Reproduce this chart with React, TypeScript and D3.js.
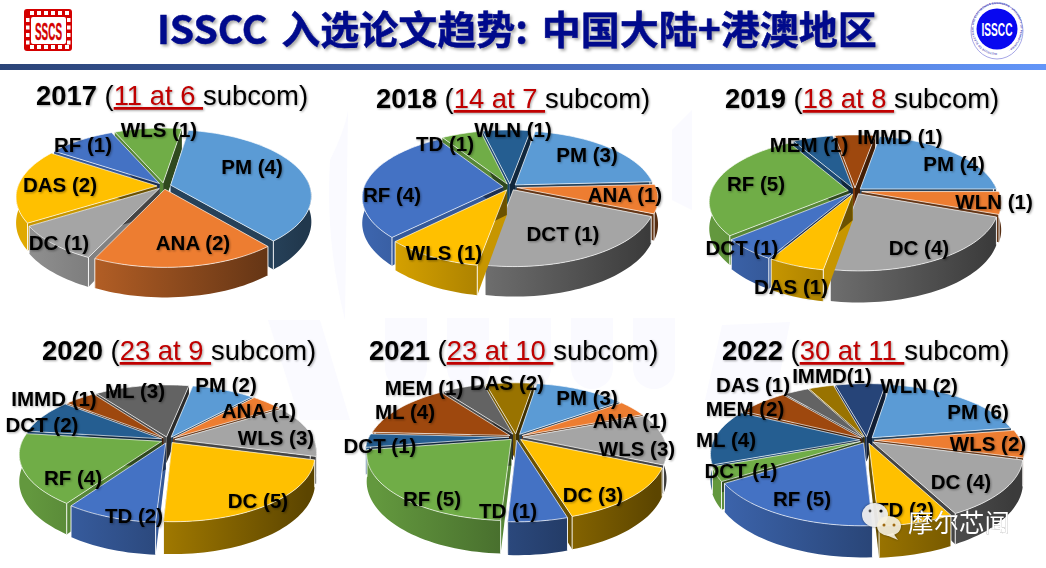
import React from "react";
import * as d3 from "d3";

const width = 1046;
const height = 568;

// slide palette, colours go round in slice order
const palette = ["#5b9bd5", "#ed7d31", "#a5a5a5", "#ffc000", "#4472c4", "#70ad47", "#255e91", "#9e480e", "#636363", "#997300", "#264478"];

const years = [2017, 2018, 2019, 2020, 2021, 2022];
const subtitles = ["11 at 6 ", "14 at 7 ", "18 at 8 ", "23 at 9 ", "23 at 10 ", "30 at 11 "];

// slice sizes are read off the picture, they do not always follow the printed count
const labels2017 = ["PM (4)", "ANA (2)", "DC (1)", "DAS (2)", "RF (1)", "WLS (1)"];
const values2017 = [4, 2, 1, 2, 1, 1];
const labels2018 = ["PM (3)", "ANA (1)", "DCT (1)", "WLS (1)", "RF (4)", "TD (1)", "WLN (1)"];
const values2018 = [3, 1, 3, 1.35, 4, 0.75, 0.9];
const labels2019 = ["PM (4)", "WLN (1)", "DC (4)", "DAS (1)", "DCT (1)", "RF (5)", "MEM (1)", "IMMD (1)"];
const values2019 = [4, 1, 4, 1, 1, 5, 1, 1];
const labels2020 = ["PM (2)", "ANA (1)", "WLS (3)", "DC (5)", "TD (2)", "RF (4)", "DCT (2)", "IMMD (1)", "ML (3)"];
const values2020 = [2, 1, 3, 5, 2, 4, 2, 1, 3];
const labels2021 = ["PM (3)", "ANA (1)", "WLS (3)", "DC (3)", "TD (1)", "RF (5)", "DCT (1)", "ML (4)", "MEM (1)", "DAS (2)"];
const values2021 = [3, 1, 3, 3.3, 1.3, 5.2, 0.8, 3.4, 1.4, 1.6];
const labels2022 = ["PM (6)", "WLS (2)", "DC (4)", "TD (2)", "RF (5)", "DCT (1)", "ML (4)", "MEM (2)", "DAS (1)", "IMMD(1)", "WLN (2)"];
const values2022 = [6, 2, 4, 2, 5, 1, 4, 2, 1, 1, 2];

const allLabels = [labels2017, labels2018, labels2019, labels2020, labels2021, labels2022];
const allValues = [values2017, values2018, values2019, values2020, values2021, values2022];

// layout of each pie on the slide, k is how strong the perspective is
const layout = [
  { cx: 164, cy: 186, rx: 139, ry: 64.5, k: 0.16, depth: 25, start: 9, titleX: 36, titleY: 105 },
  { cx: 510, cy: 187, rx: 139, ry: 63.5, k: 0.16, depth: 25, start: 10, titleX: 376, titleY: 108 },
  { cx: 855, cy: 191, rx: 137, ry: 63, k: 0.17, depth: 26, start: 10, titleX: 725, titleY: 108 },
  { cx: 168, cy: 440, rx: 139, ry: 63, k: 0.19, depth: 26, start: 11, titleX: 42, titleY: 360 },
  { cx: 516, cy: 437, rx: 140, ry: 63, k: 0.21, depth: 26, start: 9, titleX: 369, titleY: 360 },
  { cx: 867, cy: 440, rx: 146, ry: 65, k: 0.2, depth: 25, start: 9, titleX: 722, titleY: 360 },
];

// label centres, same order as the label lists
const labelSpots = [
  [[252, 167], [193, 243], [59, 243], [60, 185], [83, 145], [159, 130]],
  [[587, 155], [625, 195], [563, 234], [444, 253], [392, 195], [445, 144], [513, 130]],
  [[954, 164], [994, 202], [919, 248], [791, 287], [742, 248], [756, 184], [809, 145], [900, 137]],
  [[226, 385], [259, 411], [276, 438], [258, 501], [134, 516], [73, 478], [42, 425], [54, 399], [135, 391]],
  [[587, 398], [630, 421], [637, 449], [593, 495], [508, 511], [432, 499], [380, 446], [405, 412], [424, 388], [507, 383]],
  [[978, 412], [988, 444], [961, 482], [905, 510], [802, 499], [741, 471], [726, 440], [745, 409], [753, 385], [832, 376], [919, 386]],
];

const explode = 0.05;
const line = d3.line();

const shade = (c: string, f: number) => {
  const rgb = d3.rgb(c);
  return d3.rgb(rgb.r * f, rgb.g * f, rgb.b * f).formatHex();
};

const Pie3D = ({ index }: { index: number }) => {
  const p = layout[index];
  const values = allValues[index];
  const start = (p.start * Math.PI) / 180;
  const arcs = d3.pie<number>().sort(null).startAngle(start).endAngle(start + 2 * Math.PI)(values);

  // back slices first so the front ones paint over them
  const order = arcs
    .map((a, i) => ({ ...a, i, mid: (a.startAngle + a.endAngle) / 2 }))
    .sort((a, b) => Math.cos(b.mid) - Math.cos(a.mid));

  return (
    <g>
      <defs>
        {arcs.map((_, i) => {
          const c = palette[i % palette.length];
          return (
            <linearGradient key={i} id={`wall-${index}-${i}`} gradientUnits="userSpaceOnUse" x1={p.cx - p.rx} x2={p.cx + p.rx} y1="0" y2="0">
              <stop offset="0" stopColor={shade(c, 0.88)} />
              <stop offset="1" stopColor={shade(c, 0.36)} />
            </linearGradient>
          );
        })}
      </defs>
      {order.map((a) => {
        const c = palette[a.i % palette.length];
        const offU = explode * Math.sin(a.mid);
        const offV = explode * Math.cos(a.mid);
        const project = (t: number, r: number, z: number): [number, number] => {
          const u = r * Math.sin(t) + offU;
          const v = r * Math.cos(t) + offV;
          const w = 1 + p.k * v;
          return [p.cx + (p.rx * u) / w, p.cy - (p.ry * v) / w + (z * p.depth) / w];
        };
        const steps = Math.max(4, Math.ceil((a.endAngle - a.startAngle) * 30));
        const angles = d3.range(steps + 1).map((j) => a.startAngle + ((a.endAngle - a.startAngle) * j) / steps);
        const front = angles.filter((t) => Math.cos(t) < 0.12);
        const rim = angles.map((t) => project(t, 1, 0));
        const topFace = [project(a.startAngle, 0, 0), ...rim];
        const wall = [...front.map((t) => project(t, 1, 0)), ...front.slice().reverse().map((t) => project(t, 1, 1))];
        const cut = (t: number) => [project(t, 0, 0), project(t, 1, 0), project(t, 1, 1), project(t, 0, 1)] as [number, number][];
        const edges = front.length
          ? [front[0], front[front.length - 1]].map((t) => [project(t, 1, 0), project(t, 1, 1)] as [number, number][])
          : [];
        return (
          <g key={a.i}>
            <path d={line(cut(a.startAngle)) + "Z"} fill={shade(c, 0.78)} />
            <path d={line(cut(a.endAngle)) + "Z"} fill={shade(c, 0.42)} />
            {front.length > 1 && <path d={line(wall) + "Z"} fill={`url(#wall-${index}-${a.i})`} />}
            {edges.map((e, j) => (
              <path key={j} d={line(e) as string} stroke="#fff" strokeWidth={0.9} fill="none" />
            ))}
            <path d={line(topFace) + "Z"} fill={c} stroke="#fff" strokeOpacity={0.85} strokeWidth={0.8} strokeLinejoin="round" />
          </g>
        );
      })}
      <g
        fontFamily="'Liberation Sans', Arial, sans-serif"
        fontWeight={700}
        fontSize={20.5}
        textAnchor="middle"
        fill="#000"
        style={{ filter: "drop-shadow(1px 1px 1px rgba(0,0,0,0.35))" }}
      >
        {allLabels[index].map((t, i) => (
          <text key={t} x={labelSpots[index][i][0]} y={labelSpots[index][i][1] + 7}>
            {t}
          </text>
        ))}
      </g>
      <text
        x={p.titleX}
        y={p.titleY}
        fontFamily="'Liberation Sans', Arial, sans-serif"
        fontSize={27.4}
        style={{ whiteSpace: "pre", filter: "drop-shadow(1.5px 1.5px 1px rgba(0,0,0,0.35))" }}
      >
        <tspan fontWeight={700}>{years[index]}</tspan>
        <tspan> (</tspan>
        <tspan fill="#c00000" textDecoration="underline">
          {subtitles[index]}
        </tspan>
        <tspan>subcom)</tspan>
      </text>
    </g>
  );
};

const SscsLogo = () => {
  const holesX = d3.range(6).map((i) => 30 + i * 7);
  const holesY = d3.range(4).map((i) => 18 + i * 7.5);
  return (
    <g>
      <rect x={24} y={9} width={48} height={42} rx={3} fill="#d40000" />
      {holesX.map((x) => (
        <g key={x} fill="#fff">
          <rect x={x} y={11} width={4} height={4} />
          <rect x={x} y={45} width={4} height={4} />
        </g>
      ))}
      {holesY.map((y) => (
        <g key={y} fill="#fff">
          <rect x={26} y={y} width={3.5} height={4} />
          <rect x={67} y={y} width={3.5} height={4} />
        </g>
      ))}
      <rect x={31} y={17} width={35} height={27} rx={2} fill="#fff" />
      <text x={48.5} y={39.5} textAnchor="middle" fontFamily="'Liberation Sans'" fontWeight={700} fontSize={24} fill="#d40000" stroke="#d40000" strokeWidth={0.4} textLength={27} lengthAdjust="spacingAndGlyphs">
        SSCS
      </text>
    </g>
  );
};

const IsscLogo = () => (
  <g>
    <ellipse cx={997} cy={31} rx={26} ry={28} fill="#fff" stroke="#8f8fe0" strokeWidth={0.8} />
    <defs>
      <path id="ringTop" d="M 997 53 A 23.5 24.5 0 1 1 997.1 53" />
    </defs>
    <text fontFamily="'Liberation Sans'" fontSize={2.8} fontWeight={700} fill="#4a4ab8" letterSpacing={0.1}>
      <textPath href="#ringTop">INSTITUTE OF ELECTRICAL AND ELECTRONICS ENGINEERS · UNIVERSITY OF PENNSYLVANIA ·</textPath>
    </text>
    <circle cx={997} cy={29} r={20.5} fill="#0808f0" />
    <text x={997} y={36} textAnchor="middle" fontFamily="'Liberation Sans'" fontWeight={700} fontSize={19} fill="#fff" textLength={31} lengthAdjust="spacingAndGlyphs">
      ISSCC
    </text>
  </g>
);

const Stamp = () => (
  <g>
    <g style={{ filter: "drop-shadow(0.5px 0.5px 1px rgba(0,0,0,0.5))" }} fillOpacity={0.92}>
      <ellipse cx={875} cy={515} rx={13} ry={12} fill="#f4f4f4" />
      <ellipse cx={889} cy={526} rx={12} ry={10} fill="#f6f0dc" />
      <path d={line([[893, 533], [898, 540], [886, 535]]) as string} fill="#f6f0dc" />
    </g>
    <circle cx={884} cy={525} r={1.5} fill="#a06a10" />
    <circle cx={894} cy={525} r={1.5} fill="#a06a10" />
    <circle cx={870} cy={511} r={1.4} fill="#555" />
    <circle cx={881} cy={511} r={1.6} fill="#111" />
    <text
      x={908}
      y={532}
      fontFamily="'Noto Sans CJK SC'"
      fontSize={25.5}
      fill="#fff"
      style={{ filter: "drop-shadow(0.5px 0.5px 0.6px rgba(0,0,0,0.6))" }}
    >
      摩尔芯闻
    </text>
  </g>
);

// faint seal watermark behind the pies
const Watermark = () => {
  const arches = d3.range(5).map((i) => 385 + i * 62);
  return (
    <g fill="#fafaff" stroke="none">
      {arches.map((x) => (
        <path key={x} d={`M ${x} 318 h 42 v 50 a 21 21 0 0 1 -42 0 Z`} />
      ))}
      <path d="M 330 160 Q 345 130 348 110 L 345 320 Q 325 240 330 160 Z" />
      <path d="M 672 130 L 692 110 L 692 210 L 672 200 Z" />
      <path d="M 268 320 L 320 320 L 350 420 L 300 420 Z" />
      <path d="M 722 325 L 790 322 L 775 400 L 705 400 Z" />
    </g>
  );
};

export default function App() {
  return (
    <svg width={width} height={height} viewBox={`0 0 ${width} ${height}`} style={{ position: "fixed", left: 0, top: 0, background: "#fff" }}>
      <defs>
        <linearGradient id="headerBar" x1="0" x2="1" y1="0" y2="0">
          <stop offset="0" stopColor="#2b4478" />
          <stop offset="0.5" stopColor="#4668b8" />
          <stop offset="1" stopColor="#6295f8" />
        </linearGradient>
      </defs>
      <Watermark />
      <SscsLogo />
      <IsscLogo />
      <text
        x={157}
        y={44}
        fontFamily="'Noto Sans CJK SC'"
        fontWeight={700}
        fontSize={39}
        wordSpacing={5}
        fill="#000a8c"
        stroke="#000a8c"
        strokeWidth={0.5}
        style={{ filter: "drop-shadow(2px 2px 1.5px rgba(0,0,0,0.35))" }}
      >
        ISSCC 入选论文趋势: 中国大陆+港澳地区
      </text>
      <rect x={0} y={64} width={width} height={6} fill="url(#headerBar)" />
      {years.map((y, i) => (
        <Pie3D key={y} index={i} />
      ))}
      <Stamp />
    </svg>
  );
}
